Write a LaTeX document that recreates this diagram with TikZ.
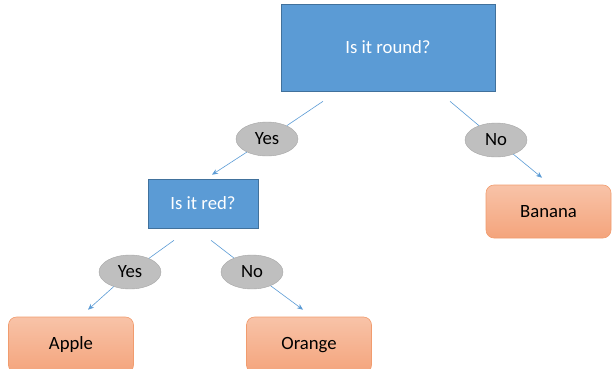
\documentclass[tikz,border=0pt]{standalone}
\usepackage{fontspec}
\setmainfont{Carlito}
\usetikzlibrary{arrows.meta,shapes.geometric}

\definecolor{qblue}{HTML}{5B9BD5}
\definecolor{qedge}{HTML}{41719C}
\definecolor{agray}{HTML}{BFBFBF}
\definecolor{aedge}{HTML}{A6A6A6}
\definecolor{ltop}{HTML}{F8C3A8}
\definecolor{lbot}{HTML}{F4A47C}
\definecolor{ledge}{HTML}{F19C6E}

\begin{document}
\begin{tikzpicture}[x=1pt,y=1pt,
	every node/.style={font=\fontsize{18.7}{22}\selectfont},
	question/.style={draw=qedge,fill=qblue,text=white,line width=0.6pt},
	answer/.style={draw=aedge,fill=agray,ellipse,minimum width=62pt,minimum height=34pt,inner sep=0pt},
	leaf/.style={draw=ledge,top color=ltop,bottom color=lbot,rounded corners=8pt,minimum width=125pt,minimum height=53pt,line width=0.6pt},
	link/.style={draw=qblue,line width=0.6pt},
	arrow/.style={link,-{Stealth[length=6pt,width=5pt]}}]
	\useasboundingbox (0,0) rectangle (612,368);

	\node[question,minimum width=214pt,minimum height=87pt] (root) at (388,320.5) {Is it round?};
	\node[question,minimum width=110pt,minimum height=49pt] (red) at (203,164.5) {Is it red?};

	\node[answer] (yes1) at (267,229) {Yes};
	\node[answer] (no1) at (496,228) {No};
	\node[answer] (yes2) at (130,96) {Yes};
	\node[answer] (no2) at (252,96) {No};

	\node[leaf] (banana) at (548.5,156.5) {Banana};
	\node[leaf,minimum height=56pt] (apple) at (71,23) {Apple};
	\node[leaf,minimum height=56pt] (orange) at (309,23) {Orange};

	% first question
	\draw[link] ([xshift=-65pt,yshift=-10pt]root.south) to (yes1);
	\draw[arrow] (yes1) to ([xshift=9pt,yshift=4pt]red.north);
	\draw[link] ([xshift=62pt,yshift=-10pt]root.south) to (no1);
	\draw[arrow] (no1) to ([xshift=-6.5pt,yshift=7pt]banana.north);

	% second question
	\draw[link] ([xshift=-29pt,yshift=-12pt]red.south) to (yes2);
	\draw[arrow] (yes2) to ([xshift=17pt,yshift=7pt]apple.north);
	\draw[link] ([xshift=8pt,yshift=-12pt]red.south) to (no2);
	\draw[arrow] (no2) to ([xshift=-6pt,yshift=7pt]orange.north);

\end{tikzpicture}
\end{document}
